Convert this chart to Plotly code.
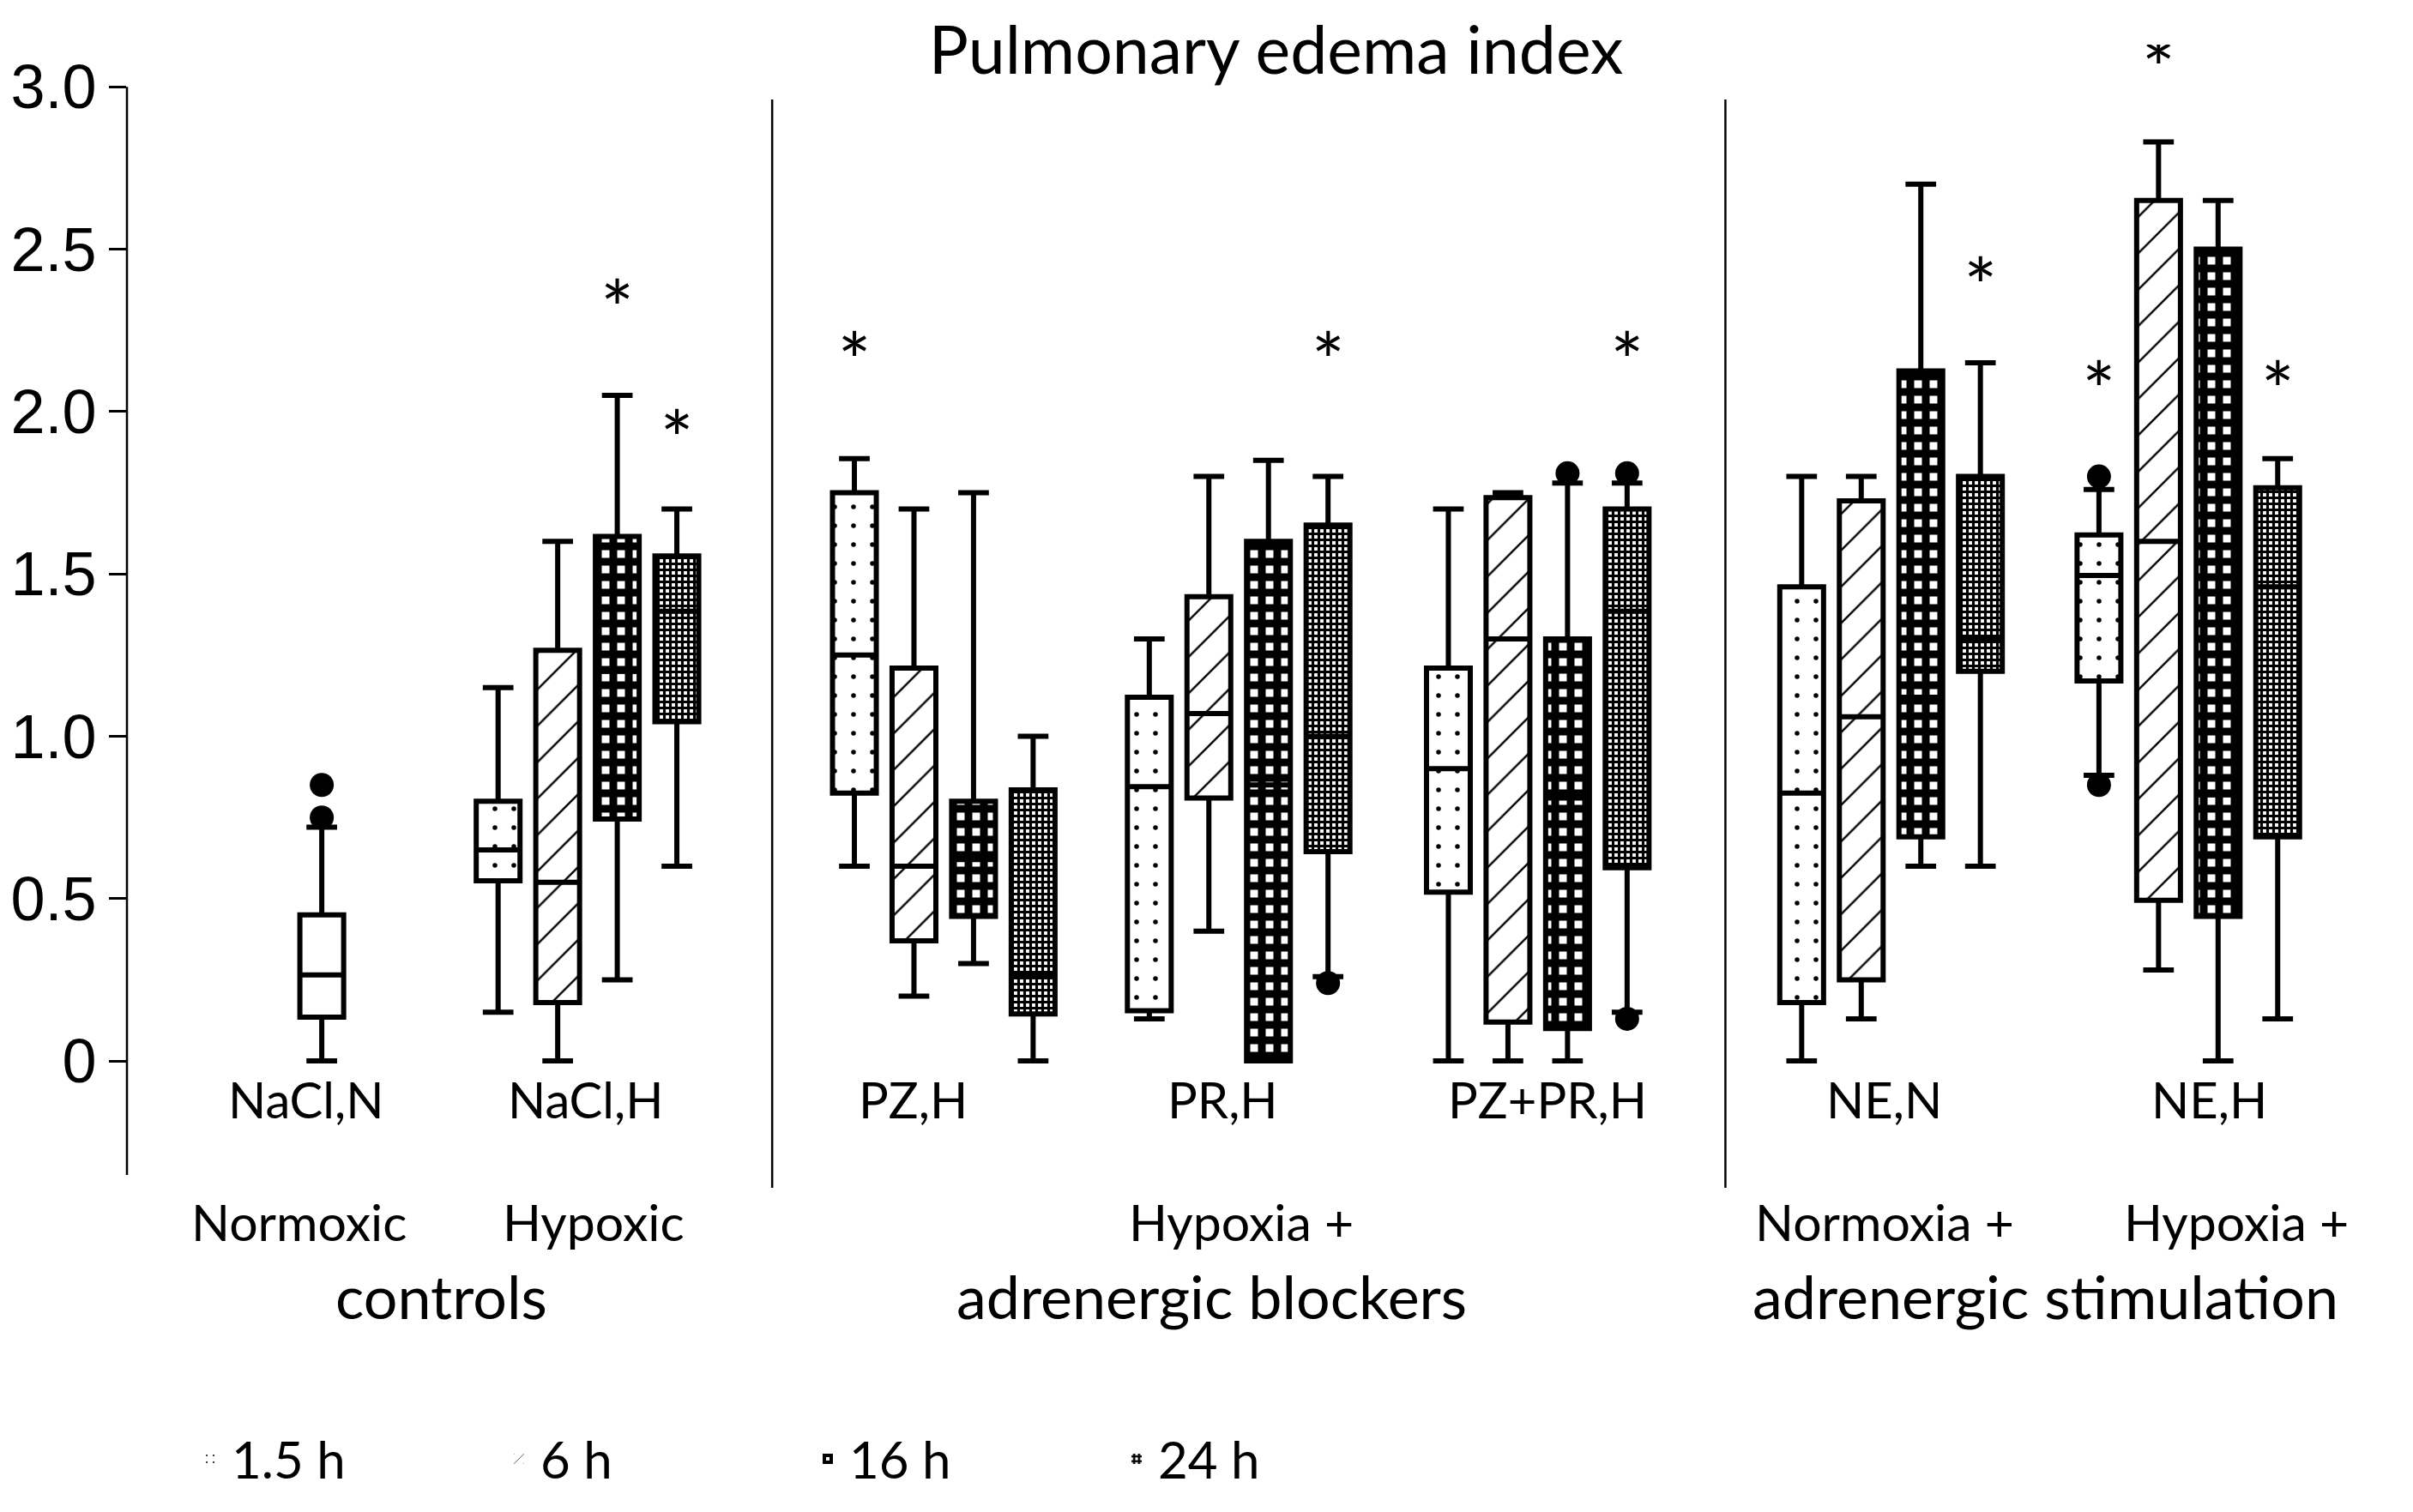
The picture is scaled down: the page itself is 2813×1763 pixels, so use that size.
import plotly.graph_objects as go

# groups with the four time points
groups = ["NaCl,H", "PZ,H", "PR,H", "PZ+PR,H", "NE,N", "NE,H"]
times = ["1.5 h", "6 h", "16 h", "24 h"]

# box statistics per time point, one value per group
low_15 = [0.15, 0.60, 0.13, 0.00, 0.00, 0.88]
q1_15 = [0.555, 0.825, 0.155, 0.52, 0.18, 1.17]
med_15 = [0.65, 1.25, 0.845, 0.90, 0.825, 1.495]
q3_15 = [0.80, 1.75, 1.12, 1.21, 1.46, 1.62]
high_15 = [1.15, 1.855, 1.30, 1.70, 1.80, 1.76]

low_6 = [0.00, 0.20, 0.40, 0.00, 0.13, 0.28]
q1_6 = [0.18, 0.37, 0.81, 0.12, 0.25, 0.495]
med_6 = [0.55, 0.60, 1.07, 1.30, 1.06, 1.60]
q3_6 = [1.265, 1.21, 1.43, 1.735, 1.725, 2.65]
high_6 = [1.60, 1.70, 1.80, 1.75, 1.80, 2.83]

low_16 = [0.25, 0.30, 0.00, 0.00, 0.60, 0.00]
q1_16 = [0.745, 0.445, 0.00, 0.10, 0.69, 0.445]
med_16 = [1.20, 0.62, 0.85, 0.81, 1.12, 0.82]
q3_16 = [1.615, 0.80, 1.60, 1.30, 2.125, 2.50]
high_16 = [2.05, 1.75, 1.85, 1.78, 2.70, 2.65]

low_24 = [0.60, 0.00, 0.26, 0.15, 0.60, 0.13]
q1_24 = [1.045, 0.145, 0.645, 0.595, 1.20, 0.69]
med_24 = [1.385, 0.265, 1.00, 1.385, 1.30, 1.46]
q3_24 = [1.555, 0.835, 1.65, 1.70, 1.80, 1.765]
high_24 = [1.70, 1.00, 1.80, 1.78, 2.15, 1.855]

# normoxic control (single box)
ctrl_low = [0.00]
ctrl_q1 = [0.135]
ctrl_med = [0.265]
ctrl_q3 = [0.45]
ctrl_high = [0.72]

# outliers
out_group = ["NaCl,N", "NaCl,N", "PR,H", "PZ+PR,H", "PZ+PR,H", "PZ+PR,H", "NE,H", "NE,H"]
out_time = ["ctrl", "ctrl", "24 h", "16 h", "24 h", "24 h", "1.5 h", "1.5 h"]
out_value = [0.75, 0.85, 0.24, 1.81, 1.81, 0.13, 1.80, 0.85]

# significance stars
star_group = ["NaCl,H", "NaCl,H", "PZ,H", "PR,H", "PZ+PR,H", "NE,N", "NE,H", "NE,H", "NE,H"]
star_time = ["16 h", "24 h", "1.5 h", "24 h", "24 h", "24 h", "1.5 h", "6 h", "24 h"]
star_y = [2.35, 1.95, 2.19, 2.19, 2.19, 2.42, 2.10, 3.09, 2.10]

# category labels
group_labels = ["NaCl,N", "NaCl,H", "PZ,H", "PR,H", "PZ+PR,H", "NE,N", "NE,H"]
cond_labels = ["Normoxic", "Hypoxic", "Hypoxia +", "Normoxia +", "Hypoxia +"]
class_labels = ["controls", "adrenergic blockers", "adrenergic stimulation"]

# ---- layout positions (x axis units = spacing between boxes) ----
centers = {"NaCl,N": 3.27, "NaCl,H": 7.73, "PZ,H": 13.71, "PR,H": 18.66,
           "PZ+PR,H": 23.68, "NE,N": 29.61, "NE,H": 34.6}
offsets = {"1.5 h": -1.5, "6 h": -0.5, "16 h": 0.5, "24 h": 1.5, "ctrl": 0.0}
group_label_x = [3.0, 7.7, 13.2, 18.4, 23.85, 29.5, 34.95]
cond_label_x = [2.88, 7.83, 18.7, 29.5, 35.4]
class_label_x = [5.27, 18.2, 32.2]
separators = [10.83, 26.83, 38.31]

BOX_W = 0.735
STAR_SHIFT = 0.06   # text glyph sits above its anchor
FONT = "Lato"
Y_BOTTOM, Y_TOP = -0.351, 3.13


def pos(group, time):
    return centers[group] + offsets[time]


stats = {
    "1.5 h": (low_15, q1_15, med_15, q3_15, high_15),
    "6 h": (low_6, q1_6, med_6, q3_6, high_6),
    "16 h": (low_16, q1_16, med_16, q3_16, high_16),
    "24 h": (low_24, q1_24, med_24, q3_24, high_24),
}

patterns = {
    "1.5 h": dict(shape=".", fgcolor="black", bgcolor="white", size=22, solidity=0.05, fillmode="replace"),
    "6 h": dict(shape="/", fgcolor="black", bgcolor="white", size=30, solidity=0.08, fillmode="replace"),
    "16 h": dict(shape="+", fgcolor="black", bgcolor="white", size=18, solidity=0.75, fillmode="replace"),
    "24 h": dict(shape="+", fgcolor="black", bgcolor="white", size=7, solidity=0.7, fillmode="replace"),
}

fig = go.Figure()

# patterned fills (bars from q1 to q3)
for t in times:
    low, q1, med, q3, high = stats[t]
    fig.add_trace(go.Bar(
        x=[pos(g, t) for g in groups],
        y=[b - a for a, b in zip(q1, q3)],
        base=q1,
        width=BOX_W,
        name=t,
        marker=dict(color="white", line=dict(width=0), pattern=patterns[t]),
        showlegend=True,
        hoverinfo="skip",
    ))

# box outlines, medians, whiskers
for t in times:
    low, q1, med, q3, high = stats[t]
    fig.add_trace(go.Box(
        x=[pos(g, t) for g in groups],
        lowerfence=low, q1=q1, median=med, q3=q3, upperfence=high,
        width=BOX_W, whiskerwidth=0.7, boxpoints=False,
        fillcolor="rgba(0,0,0,0)",
        line=dict(color="black", width=6),
        showlegend=False,
    ))

fig.add_trace(go.Box(
    x=[pos("NaCl,N", "ctrl")],
    lowerfence=ctrl_low, q1=ctrl_q1, median=ctrl_med, q3=ctrl_q3, upperfence=ctrl_high,
    width=BOX_W, whiskerwidth=0.7, boxpoints=False,
    fillcolor="white",
    line=dict(color="black", width=6),
    showlegend=False,
))

# outliers
fig.add_trace(go.Scatter(
    x=[pos(g, t) for g, t in zip(out_group, out_time)],
    y=out_value,
    mode="markers",
    marker=dict(color="black", size=28, symbol="circle"),
    showlegend=False,
))

# stars
fig.add_trace(go.Scatter(
    x=[pos(g, t) for g, t in zip(star_group, star_time)],
    y=[v - STAR_SHIFT for v in star_y],
    mode="text",
    text=["*"] * len(star_y),
    textposition="middle center",
    textfont=dict(family=FONT, size=92, color="black"),
    showlegend=False,
))


def py(px):
    # pixel row in the 1763 px figure -> paper y
    return (1362 - px) / (1362 - 44)


# y axis line only from the bottom up to 3.0
shapes = [dict(type="line", xref="paper", yref="y", x0=0, x1=0, y0=Y_BOTTOM, y1=3.0,
               line=dict(color="black", width=2.5))]
# separators between sections
for sx in separators:
    shapes.append(dict(
        type="line", xref="x", yref="paper",
        x0=sx, x1=sx, y0=py(1377), y1=py(108),
        line=dict(color="black", width=2.5),
    ))

annotations = []
for label, lx in zip(group_labels, group_label_x):
    annotations.append(dict(x=lx, y=py(1273), xref="x", yref="paper", text=label,
                            yanchor="middle", showarrow=False,
                            font=dict(family=FONT, size=58, color="black")))
for label, lx in zip(cond_labels, cond_label_x):
    annotations.append(dict(x=lx, y=py(1416), xref="x", yref="paper", text=label,
                            yanchor="middle", showarrow=False,
                            font=dict(family=FONT, size=59, color="black")))
for label, lx in zip(class_labels, class_label_x):
    annotations.append(dict(x=lx, y=py(1503), xref="x", yref="paper", text=label,
                            yanchor="middle", showarrow=False,
                            font=dict(family=FONT, size=70, color="black")))

fig.update_layout(
    width=2813,
    height=1763,
    margin=dict(l=140, r=6, t=44, b=401),
    paper_bgcolor="white",
    plot_bgcolor="white",
    barmode="overlay",
    boxmode="overlay",
    title=dict(text="Pulmonary edema index", x=0.526, xanchor="center",
               y=1 - 24 / 1763, yanchor="top", yref="container", pad=dict(t=0),
               font=dict(family=FONT, size=77, color="black")),
    xaxis=dict(range=[0, 38.4], visible=False),
    yaxis=dict(
        range=[Y_BOTTOM, Y_TOP],
        tickmode="array",
        tickvals=[0, 0.5, 1.0, 1.5, 2.0, 2.5, 3.0],
        ticktext=["0", "0.5", "1.0", "1.5", "2.0", "2.5", "3.0"],
        ticks="outside", ticklen=20, tickwidth=2.5, tickcolor="black",
        showline=False,
        showgrid=False, zeroline=False,
        tickfont=dict(family="Liberation Sans", size=72, color="black"),
    ),
    legend=dict(
        orientation="h",
        x=0.027, xanchor="left",
        y=py(1693), yanchor="middle",
        font=dict(family=FONT, size=60, color="black"),
        entrywidth=305,
        itemwidth=40,
        bgcolor="rgba(0,0,0,0)",
    ),
    shapes=shapes,
    annotations=annotations,
)

fig.write_html("out.html")
